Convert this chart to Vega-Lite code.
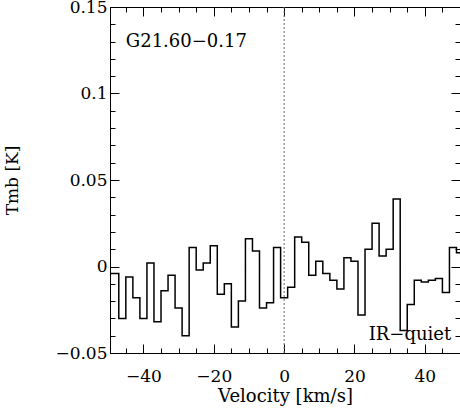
{
  "$schema": "https://vega.github.io/schema/vega-lite/v6.json",
  "width": 350,
  "height": 346,
  "autosize": {"type": "none"},
  "padding": {"left": 110, "top": 7, "right": 0, "bottom": 55},
  "background": "white",
  "config": {
    "view": {"stroke": "black", "strokeWidth": 1},
    "font": "DejaVu Serif",
    "axis": {
      "grid": false,
      "domainColor": "black",
      "tickColor": "black",
      "labelColor": "black",
      "labelFont": "DejaVu Serif",
      "labelFontSize": 17,
      "titleFont": "DejaVu Serif",
      "titleFontSize": 17,
      "titleFontWeight": "normal",
      "titleColor": "black",
      "labelOverlap": false,
      "labelFlush": false
    }
  },
  "datasets": {
    "spec": [
      {"v": -50, "t": -0.004}, {"v": -48, "t": -0.004}, {"v": -46, "t": -0.030}, {"v": -44, "t": -0.006},
      {"v": -42, "t": -0.018}, {"v": -40, "t": -0.030}, {"v": -38, "t": 0.002}, {"v": -36, "t": -0.032},
      {"v": -34, "t": -0.014}, {"v": -32, "t": -0.005}, {"v": -30, "t": -0.024}, {"v": -28, "t": -0.040},
      {"v": -26, "t": 0.011}, {"v": -24, "t": -0.002}, {"v": -22, "t": 0.002}, {"v": -20, "t": 0.012},
      {"v": -18, "t": -0.016}, {"v": -16, "t": -0.010}, {"v": -14, "t": -0.035}, {"v": -12, "t": -0.020},
      {"v": -10, "t": 0.016}, {"v": -8, "t": 0.009}, {"v": -6, "t": -0.024}, {"v": -4, "t": -0.021},
      {"v": -2, "t": 0.011}, {"v": 0, "t": -0.018}, {"v": 2, "t": -0.012}, {"v": 4, "t": 0.017},
      {"v": 6, "t": 0.014}, {"v": 8, "t": -0.005}, {"v": 10, "t": 0.003}, {"v": 12, "t": -0.004},
      {"v": 14, "t": -0.008}, {"v": 16, "t": -0.013}, {"v": 18, "t": 0.005}, {"v": 20, "t": 0.003},
      {"v": 22, "t": -0.028}, {"v": 24, "t": 0.010}, {"v": 26, "t": 0.025}, {"v": 28, "t": 0.006},
      {"v": 30, "t": 0.010}, {"v": 32, "t": 0.039}, {"v": 34, "t": -0.037}, {"v": 36, "t": -0.022},
      {"v": 38, "t": -0.008}, {"v": 40, "t": -0.009}, {"v": 42, "t": -0.008}, {"v": 44, "t": -0.007},
      {"v": 46, "t": -0.015}, {"v": 48, "t": 0.011}, {"v": 50, "t": 0.008}, {"v": 52, "t": 0.008}
    ],
    "notes": [
      {"label": "G21.60−0.17", "v": -45, "t": 0.130},
      {"label": "IR−quiet", "v": 47.5, "t": -0.0395}
    ]
  },
  "layer": [
    {
      "data": {"values": [{"v": 0}]},
      "mark": {"type": "rule", "strokeDash": [2, 2], "color": "#666666", "strokeWidth": 1},
      "encoding": {
        "x": {"field": "v", "type": "quantitative", "scale": {"domain": [-49.5, 50], "nice": false, "zero": false}, "axis": null}
      }
    },
    {
      "data": {"name": "spec"},
      "mark": {"type": "line", "interpolate": "step", "color": "black", "strokeWidth": 1.5, "clip": true},
      "encoding": {
        "x": {
          "field": "v", "type": "quantitative",
          "scale": {"domain": [-49.5, 50], "nice": false, "zero": false},
          "axis": {
            "orient": "bottom",
            "values": [-45, -40, -35, -30, -25, -20, -15, -10, -5, 0, 5, 10, 15, 20, 25, 30, 35, 40, 45, 50],
            "tickSize": {"condition": {"test": "datum.value % 20 === 0", "value": -9}, "value": -5},
            "labelExpr": "datum.value % 20 === 0 ? datum.label : ''",
            "labelPadding": 24,
            "title": "Velocity [km/s]",
            "titleFontSize": 18,
            "titlePadding": -1
          }
        },
        "y": {
          "field": "t", "type": "quantitative",
          "scale": {"domain": [-0.05, 0.15], "nice": false, "zero": false},
          "axis": {
            "orient": "left",
            "values": [-0.05, -0.04, -0.03, -0.02, -0.01, 0, 0.01, 0.02, 0.03, 0.04, 0.05, 0.06, 0.07, 0.08, 0.09, 0.1, 0.11, 0.12, 0.13, 0.14, 0.15],
            "format": ".2~f",
            "tickSize": {"condition": {"test": "abs(round(datum.value*100)) % 5 === 0", "value": -9}, "value": -5},
            "labelExpr": "abs(round(datum.value*100)) % 5 === 0 ? datum.label : ''",
            "labelPadding": 12,
            "title": "Tmb [K]",
            "titlePadding": 33
          }
        }
      }
    },
    {
      "data": {"name": "spec"},
      "mark": {"type": "line", "interpolate": "step", "opacity": 0},
      "encoding": {
        "x": {
          "field": "v", "type": "quantitative",
          "scale": {"domain": [-49.5, 50], "nice": false, "zero": false},
          "axis": {
            "orient": "top",
            "values": [-45, -40, -35, -30, -25, -20, -15, -10, -5, 0, 5, 10, 15, 20, 25, 30, 35, 40, 45, 50],
            "tickSize": {"condition": {"test": "datum.value % 20 === 0", "value": -9}, "value": -5},
            "labels": false,
            "title": null
          }
        },
        "y": {
          "field": "t", "type": "quantitative",
          "scale": {"domain": [-0.05, 0.15], "nice": false, "zero": false},
          "axis": {
            "orient": "right",
            "values": [-0.05, -0.04, -0.03, -0.02, -0.01, 0, 0.01, 0.02, 0.03, 0.04, 0.05, 0.06, 0.07, 0.08, 0.09, 0.1, 0.11, 0.12, 0.13, 0.14, 0.15],
            "tickSize": {"condition": {"test": "abs(round(datum.value*100)) % 5 === 0", "value": -9}, "value": -5},
            "labels": false,
            "title": null
          }
        }
      }
    },
    {
      "data": {"name": "notes"},
      "transform": [{"filter": "datum.label === 'G21.60−0.17'"}],
      "mark": {"type": "text", "align": "left", "baseline": "middle", "fontSize": 18, "font": "DejaVu Serif", "color": "black"},
      "encoding": {
        "x": {"field": "v", "type": "quantitative", "scale": {"domain": [-49.5, 50], "nice": false, "zero": false}, "axis": null},
        "y": {"field": "t", "type": "quantitative", "scale": {"domain": [-0.05, 0.15], "nice": false, "zero": false}, "axis": null},
        "text": {"field": "label"}
      }
    },
    {
      "data": {"name": "notes"},
      "transform": [{"filter": "datum.label === 'IR−quiet'"}],
      "mark": {"type": "text", "align": "right", "baseline": "middle", "fontSize": 18, "font": "DejaVu Serif", "color": "black"},
      "encoding": {
        "x": {"field": "v", "type": "quantitative", "scale": {"domain": [-49.5, 50], "nice": false, "zero": false}, "axis": null},
        "y": {"field": "t", "type": "quantitative", "scale": {"domain": [-0.05, 0.15], "nice": false, "zero": false}, "axis": null},
        "text": {"field": "label"}
      }
    }
  ],
  "resolve": {"axis": {"x": "independent", "y": "independent"}}
}
